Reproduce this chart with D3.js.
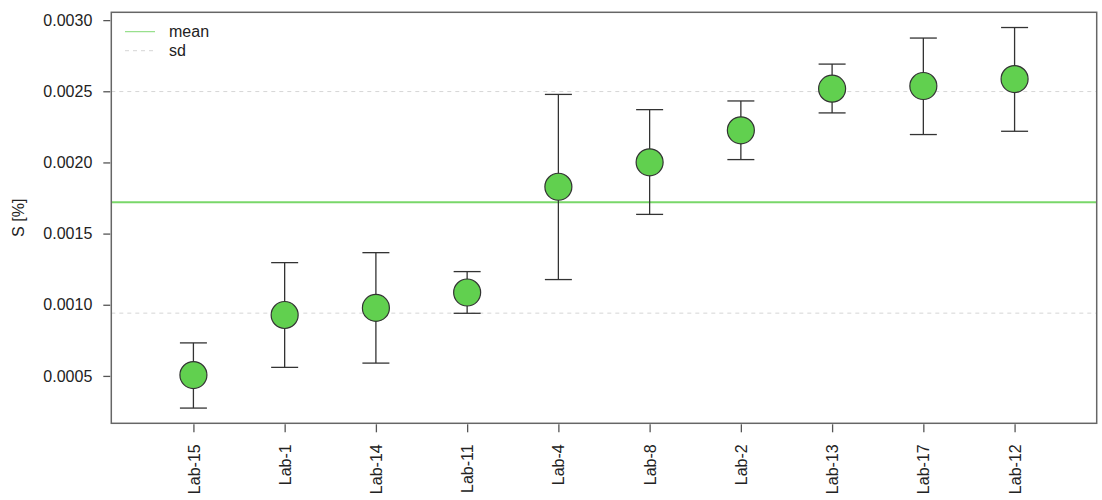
<!DOCTYPE html>
<html>
<head>
<meta charset="utf-8">
<script src="https://cdn.jsdelivr.net/npm/d3@7"></script>
<style>
  html, body { margin: 0; padding: 0; background: #fff; }
  svg { display: block; font-family: "Liberation Sans", Arial, sans-serif; }
</style>
</head>
<body>
<svg id="chart" width="1102" height="500"></svg>
<script>
// Laboratories, ordered by their S value
const labs = ["Lab-15", "Lab-1", "Lab-14", "Lab-11", "Lab-4", "Lab-8", "Lab-2", "Lab-13", "Lab-17", "Lab-12"];
// Reported S [%] per lab
const values = [0.000506, 0.000928, 0.000978, 0.001086, 0.001829, 0.002001, 0.002226, 0.002518, 0.002537, 0.002586];
// Lower and upper ends of each lab's uncertainty interval
const lower = [0.000274, 0.000560, 0.000590, 0.000940, 0.001177, 0.001635, 0.002020, 0.002348, 0.002196, 0.002219];
const upper = [0.000732, 0.001296, 0.001366, 0.001233, 0.002478, 0.002371, 0.002432, 0.002691, 0.002874, 0.002948];
// Y axis tick values
const yTicks = [0.0005, 0.0010, 0.0015, 0.0020, 0.0025, 0.0030];

const svg = d3.select("#chart");
const plot = { left: 111.3, right: 1096.7, top: 12.3, bottom: 423.3 };

const idx = labs.map((d, i) => i + 1);
const x = d3.scaleLinear().domain([0.1, 10.9]).range([plot.left, plot.right]);

const lo = d3.min(lower), hi = d3.max(upper);
const pad = (hi - lo) * 0.04;
const y = d3.scaleLinear().domain([lo - pad, hi + pad]).range([plot.bottom, plot.top]);

const mean = d3.mean(values);
const sd = d3.deviation(values);

// Reference lines: mean +/- sd (dashed) and mean (green)
[mean - sd, mean + sd].forEach(v => {
  svg.append("line")
    .attr("x1", plot.left).attr("x2", plot.right)
    .attr("y1", y(v)).attr("y2", y(v))
    .attr("stroke", "#d6d6d6").attr("stroke-width", 1)
    .attr("stroke-dasharray", "4,4");
});
svg.append("line")
  .attr("x1", plot.left).attr("x2", plot.right)
  .attr("y1", y(mean)).attr("y2", y(mean))
  .attr("stroke", "#61D04F").attr("stroke-opacity", 0.85).attr("stroke-width", 2);

// Error bars with caps
const capHalf = 13.5;
const bars = svg.append("g").attr("stroke", "#333").attr("stroke-width", 1.3);
labs.forEach((lab, i) => {
  const cx = x(idx[i]);
  bars.append("line").attr("x1", cx).attr("x2", cx).attr("y1", y(lower[i])).attr("y2", y(upper[i]));
  bars.append("line").attr("x1", cx - capHalf).attr("x2", cx + capHalf).attr("y1", y(lower[i])).attr("y2", y(lower[i]));
  bars.append("line").attr("x1", cx - capHalf).attr("x2", cx + capHalf).attr("y1", y(upper[i])).attr("y2", y(upper[i]));
});

// Points
svg.append("g").selectAll("circle")
  .data(values)
  .join("circle")
  .attr("cx", (d, i) => x(idx[i]))
  .attr("cy", d => y(d))
  .attr("r", 13.5)
  .attr("fill", "#61D04F")
  .attr("stroke", "#333")
  .attr("stroke-width", 1.2);

// Y axis
const yAxis = d3.axisLeft(y).tickValues(yTicks).tickFormat(d3.format(".4f")).tickSize(7).tickPadding(11);
const gy = svg.append("g").attr("transform", `translate(${plot.left - 1},0)`).call(yAxis);
gy.select(".domain").remove();
gy.selectAll(".tick line").attr("stroke", "#555").attr("stroke-width", 1.3);
gy.selectAll(".tick text").attr("font-size", 16).attr("fill", "#222").attr("font-family", "Liberation Sans, Arial, sans-serif");

// X axis with vertical lab labels
const xAxis = d3.axisBottom(x).tickValues(idx).tickFormat(d => labs[d - 1]).tickSize(8);
const gx = svg.append("g").attr("transform", `translate(0,${plot.bottom + 1})`).call(xAxis);
gx.select(".domain").remove();
gx.selectAll(".tick line").attr("stroke", "#555").attr("stroke-width", 1.3);
gx.selectAll(".tick text")
  .attr("font-size", 16).attr("fill", "#222").attr("font-family", "Liberation Sans, Arial, sans-serif")
  .attr("transform", "rotate(-90)")
  .attr("x", -20).attr("y", 0).attr("dy", "0.35em")
  .attr("text-anchor", "end");

// Plot frame
svg.append("rect")
  .attr("x", plot.left).attr("y", plot.top)
  .attr("width", plot.right - plot.left).attr("height", plot.bottom - plot.top)
  .attr("fill", "none").attr("stroke", "#666").attr("stroke-width", 1.5);

// Y axis title
svg.append("text")
  .attr("transform", `translate(24,${(plot.top + plot.bottom) / 2}) rotate(-90)`)
  .attr("text-anchor", "middle")
  .attr("font-size", 16).attr("fill", "#222")
  .text("S [%]");

// Legend
const legend = svg.append("g");
legend.append("line").attr("x1", 125).attr("x2", 155).attr("y1", 31.7).attr("y2", 31.7)
  .attr("stroke", "#61D04F").attr("stroke-opacity", 0.8).attr("stroke-width", 1);
legend.append("line").attr("x1", 125).attr("x2", 155).attr("y1", 50.7).attr("y2", 50.7)
  .attr("stroke", "#d6d6d6").attr("stroke-width", 1).attr("stroke-dasharray", "4,4");
legend.append("text").attr("x", 169).attr("y", 31.7).attr("dy", "0.35em")
  .attr("font-size", 16).attr("fill", "#222").text("mean");
legend.append("text").attr("x", 169).attr("y", 50.7).attr("dy", "0.35em")
  .attr("font-size", 16).attr("fill", "#222").text("sd");
</script>
</body>
</html>
